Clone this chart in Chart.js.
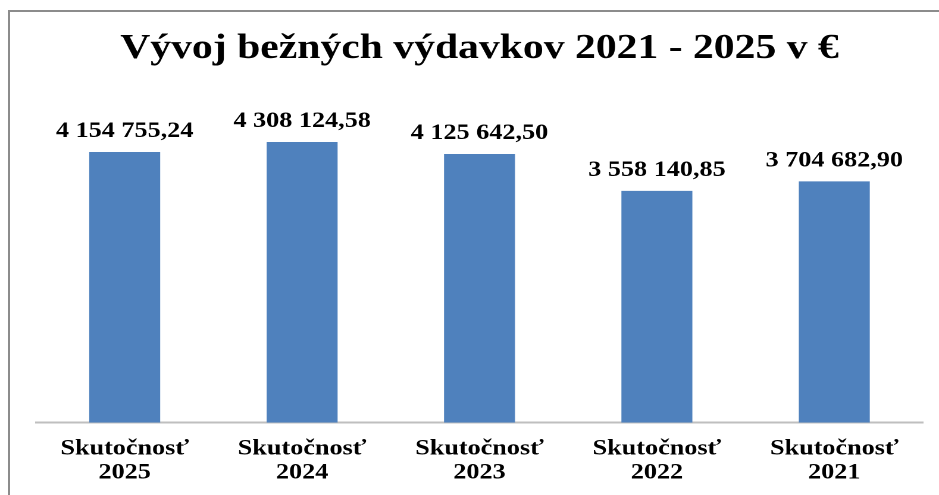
<!DOCTYPE html>
<html>
<head>
<meta charset="utf-8">
<script src="https://cdn.jsdelivr.net/npm/chart.js@4/dist/chart.umd.min.js"></script>
<style>
  html, body { margin: 0; padding: 0; background: #ffffff; overflow: hidden; }
  #frame { position: absolute; left: 8px; top: 10px; width: 1200px; height: 800px; border: 2px solid #8c8c8c; }
  #wrap { position: absolute; left: 0; top: 4px; width: 789px; height: 495px; transform-origin: 0 0; transform: scaleX(1.19011); }
</style>
</head>
<body>
<div id="frame"></div>
<div id="wrap"><canvas id="c"></canvas></div>
<script>
const titleText = 'Vývoj bežných výdavkov 2021 - 2025 v €';
const categories = [['Skutočnosť', '2025'], ['Skutočnosť', '2024'], ['Skutočnosť', '2023'], ['Skutočnosť', '2022'], ['Skutočnosť', '2021']];
const values = [4154755.24, 4308124.58, 4125642.50, 3558140.85, 3704682.90];
const yMax = 5000000;

function fmt(v) {
  const parts = v.toFixed(2).split('.');
  const intPart = parts[0].replace(/\B(?=(\d{3})+(?!\d))/g, ' ');
  return intPart + ',' + parts[1];
}

const valueLabels = {
  id: 'valueLabels',
  afterDatasetsDraw(chart) {
    const ctx = chart.ctx;
    const meta = chart.getDatasetMeta(0);
    ctx.save();
    ctx.font = 'bold 22px "Liberation Serif", "Times New Roman", serif';
    ctx.fillStyle = '#000000';
    ctx.textAlign = 'center';
    ctx.textBaseline = 'alphabetic';
    meta.data.forEach((bar, i) => {
      ctx.fillText(fmt(values[i]), bar.x, bar.y - 15);
    });
    ctx.restore();
  }
};

new Chart(document.getElementById('c'), {
  type: 'bar',
  data: {
    labels: categories,
    datasets: [{
      data: values,
      backgroundColor: '#4f81bd',
      borderWidth: 0,
      categoryPercentage: 1,
      barPercentage: 0.4
    }]
  },
  options: {
    responsive: true,
    maintainAspectRatio: false,
    animation: false,
    devicePixelRatio: 2,
    layout: { padding: { left: 30.25, right: 13.45, top: 0, bottom: 0 } },
    plugins: {
      legend: { display: false },
      tooltip: { enabled: false },
      title: {
        display: true,
        text: titleText,
        color: '#000000',
        font: { family: '"Liberation Serif", "Times New Roman", serif', size: 35, weight: 'bold', lineHeight: 1.2 },
        padding: { top: 24, bottom: 27 }
      }
    },
    scales: {
      x: {
        grid: { display: false, drawTicks: false },
        border: { display: true, color: '#bfbfbf', width: 2 },
        ticks: {
          color: '#000000',
          padding: 14,
          maxRotation: 0,
          font: { family: '"Liberation Serif", "Times New Roman", serif', size: 22, weight: 'bold', lineHeight: 1.1 }
        }
      },
      y: {
        display: false,
        min: 0,
        max: yMax
      }
    }
  },
  plugins: [valueLabels]
});
</script>
</body>
</html>
